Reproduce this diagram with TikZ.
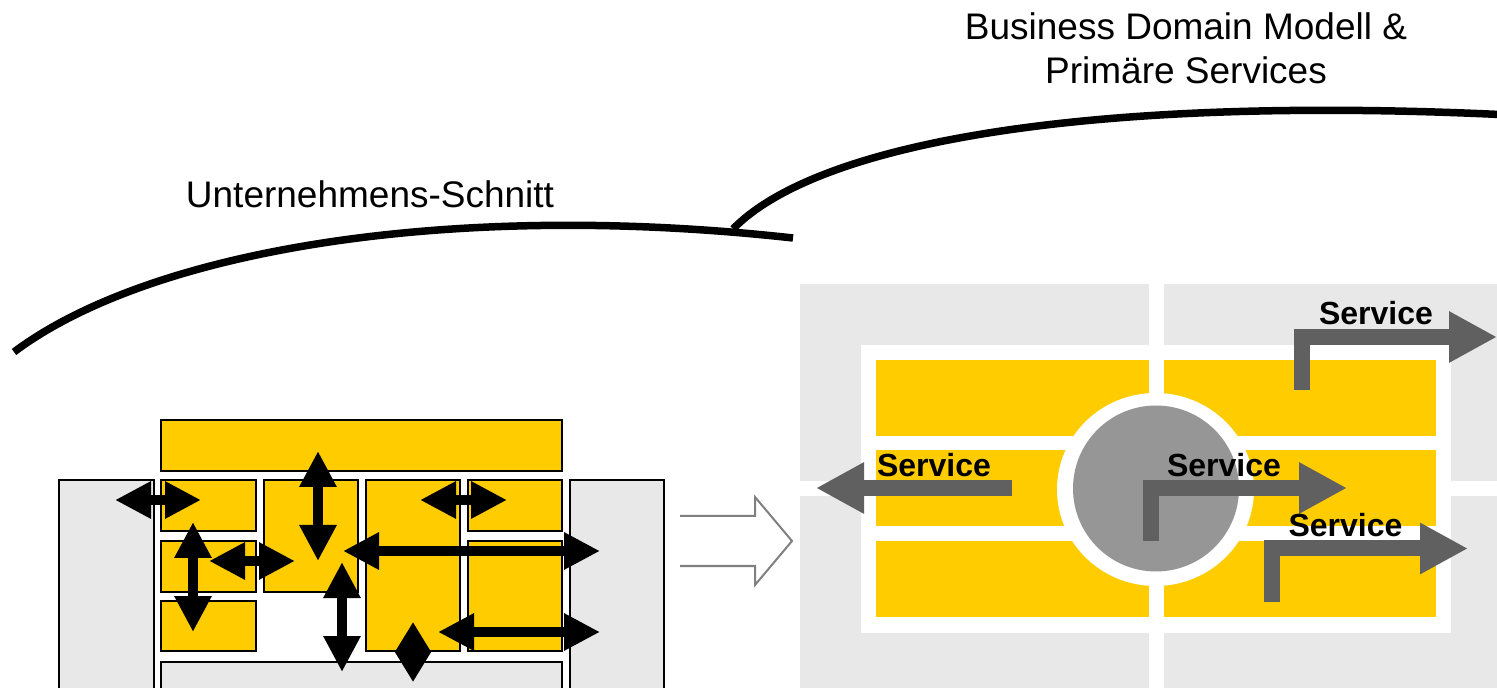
\documentclass[tikz,border=0pt]{standalone}
\usepackage{fontspec}
\setmainfont{Liberation Sans}
\usetikzlibrary{arrows.meta}
\definecolor{gelb}{HTML}{FFCC00}
\definecolor{hell}{HTML}{E8E8E8}
\definecolor{dunkel}{HTML}{606060}
\definecolor{kreis}{HTML}{969696}
\definecolor{rand}{HTML}{808080}

\begin{document}
\begin{tikzpicture}[x=0.5pt,y=-0.5pt,
    box/.style={draw=black,line width=0.75pt,fill=gelb},
    seite/.style={draw=black,line width=0.75pt,fill=hell},
    dbl/.style={line width=5pt,{Triangle[width=17.5pt,length=18pt]}-{Triangle[width=17.5pt,length=18pt]}},
    klein/.style={line width=5pt,{Triangle[width=17pt,length=15pt]}-{Triangle[width=17pt,length=15pt]}},
    svc/.style={draw=dunkel,line width=8pt,line join=miter,-{Triangle[width=24pt,length=24pt]}},
    bogen/.style={line width=3.75pt},
    titel/.style={font=\fontsize{18.5}{22}\selectfont,inner sep=0pt},
    lbl/.style={font=\bfseries\fontsize{16}{19}\selectfont,inner sep=0pt,anchor=base}]
  \useasboundingbox (0,0) rectangle (1497,688);
  \clip (0,0) rectangle (1497,688);
  \fill[white] (0,0) rectangle (1497,688);

  % left: Unternehmens-Schnitt
  \draw[seite] (59,480) rectangle (154,700);
  \draw[seite] (570,480) rectangle (664,700);
  \draw[seite] (161,662) rectangle (562,700);
  \draw[box] (161,420) rectangle (562,471);
  \draw[box] (161,480) rectangle (256,531);
  \draw[box] (264,480) rectangle (358,592);
  \draw[box] (366,480) rectangle (460,651);
  \draw[box] (468,480) rectangle (562,531);
  \draw[box] (161,541) rectangle (256,592);
  \draw[box] (468,541) rectangle (562,651);
  \draw[box] (161,601) rectangle (256,651);

  \path (115,500) coordinate (a1) (201,500) coordinate (a2)
        (318,451) coordinate (b1) (318,561) coordinate (b2)
        (420,500) coordinate (c1) (507,500) coordinate (c2)
        (193,522) coordinate (d1) (193,632) coordinate (d2)
        (209,561) coordinate (e1) (295,561) coordinate (e2)
        (343,551) coordinate (f1) (600,551) coordinate (f2)
        (342,562) coordinate (g1) (342,672) coordinate (g2)
        (438,632) coordinate (h1) (600,632) coordinate (h2)
        (413,622) coordinate (k1) (413,682) coordinate (k2);
  \begin{scope}[dbl]
    \draw (a1) -- (a2);
    \draw (b1) -- (b2);
    \draw (c1) -- (c2);
    \draw (d1) -- (d2);
    \draw (e1) -- (e2);
    \draw (f1) -- (f2);
    \draw (g1) -- (g2);
    \draw (h1) -- (h2);
  \end{scope}
  \draw[klein] (k1) -- (k2);

  % hollow arrow
  \draw[rand,line width=1pt,line join=miter] (680,516) -- (755,516) -- (755,497)
    -- (792,541) -- (755,585) -- (755,566) -- (680,566);

  % right: Business Domain Modell
  \fill[hell] (800,284) rectangle (1149,481);
  \fill[hell] (1164,284) rectangle (1500,481);
  \fill[hell] (800,496) rectangle (1149,700);
  \fill[hell] (1164,496) rectangle (1500,700);
  \fill[white] (861,345) rectangle (1451,633);
  \fill[gelb] (876,360) rectangle (1149,436);
  \fill[gelb] (1164,360) rectangle (1436,436);
  \fill[gelb] (876,450) rectangle (1149,526);
  \fill[gelb] (1164,450) rectangle (1436,526);
  \fill[gelb] (876,541) rectangle (1149,617);
  \fill[gelb] (1164,541) rectangle (1436,617);
  \fill[white] (1155.5,489.5) ellipse [x radius=49.25pt,y radius=48.25pt];
  \fill[kreis] (1156,488.5) circle [radius=41.5pt];

  \path (1012,488) coordinate (s1) (816,488) coordinate (t1)
        (1150.5,541) coordinate (s2) (1150.5,488) coordinate (m2) (1347,488) coordinate (t2)
        (1272,602) coordinate (s3) (1272,548.5) coordinate (m3) (1468,548.5) coordinate (t3)
        (1302,390) coordinate (s4) (1302,337) coordinate (m4) (1497,337) coordinate (t4);
  \draw[svc] (s1) -- (t1);
  \draw[svc] (s2) -- (m2) -- (t2);
  \draw[svc] (s3) -- (m3) -- (t3);
  \draw[svc] (s4) -- (m4) -- (t4);

  \node[lbl] (l1) at (934,477) {Service};
  \node[lbl] (l2) at (1224,477) {Service};
  \node[lbl] (l3) at (1345.5,537) {Service};
  \node[lbl] (l4) at (1376,325) {Service};

  % curves and titles
  \draw[bogen] (14,352) .. controls (150,250) and (450,200) .. (793,238);
  \draw[bogen] (733,229) .. controls (820,140) and (1100,95) .. (1510,115);
  \node[titel,anchor=base] (schnitt) at (370,208) {Unternehmens-Schnitt};
  \node[titel,align=center,anchor=north] (bdm) at (1186,12) {Business Domain Modell \&\\Primäre Services};
\end{tikzpicture}
\end{document}
